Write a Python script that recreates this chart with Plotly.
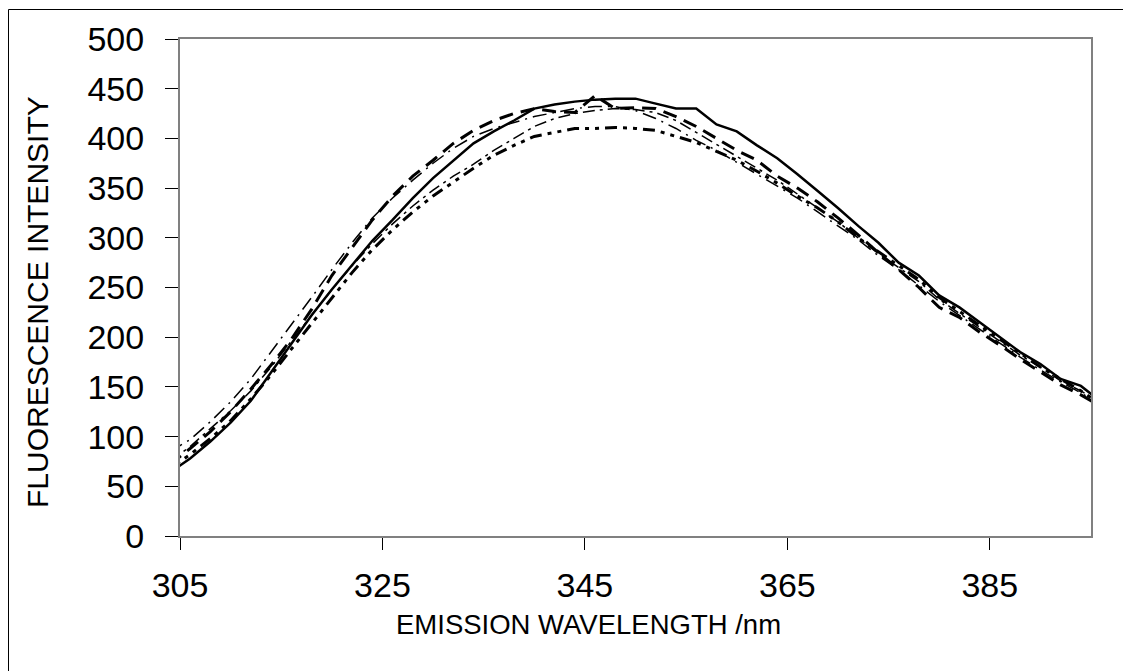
import plotly.graph_objects as go

wavelength = list(range(304, 398, 2))

series_a = [64, 78, 95, 114, 136, 165, 193, 222, 248, 272, 297, 318, 340, 360, 378, 395,
            407, 418, 430, 434, 437, 439, 440, 440, 435, 430, 430, 414, 407, 393, 380, 364,
            347, 330, 312, 295, 275, 262, 242, 230, 215, 200, 185, 173, 158, 151, 135]
series_b = [72, 88, 105, 125, 148, 172, 198, 228, 262, 290, 318, 342, 362, 378, 395, 408,
            418, 425, 430, 427, 426, 443, 430, 431, 430, 422, 412, 400, 388, 378, 362, 350,
            336, 320, 303, 285, 268, 250, 230, 220, 205, 192, 178, 165, 152, 142, 130]
series_c = [68, 82, 98, 116, 138, 162, 188, 214, 240, 265, 288, 308, 326, 342, 356, 370,
            383, 393, 402, 406, 410, 410, 411, 410, 408, 402, 396, 387, 378, 367, 355, 342,
            330, 316, 300, 286, 272, 258, 240, 226, 212, 198, 184, 170, 158, 146, 132]
series_d = [85, 97, 115, 135, 158, 185, 212, 240, 268, 295, 320, 340, 358, 375, 390, 402,
            410, 416, 422, 426, 430, 432, 432, 428, 420, 410, 398, 388, 376, 364, 352, 340,
            326, 312, 298, 282, 268, 252, 236, 222, 208, 194, 180, 167, 155, 144, 132]
series_e = [75, 90, 108, 126, 146, 170, 196, 222, 248, 272, 294, 314, 332, 348, 362, 374,
            388, 400, 412, 420, 425, 428, 430, 429, 426, 418, 406, 394, 382, 370, 358, 344,
            330, 316, 300, 284, 270, 256, 238, 224, 210, 196, 182, 170, 156, 146, 134]

x_ticks = [305, 325, 345, 365, 385]
y_ticks = [0, 50, 100, 150, 200, 250, 300, 350, 400, 450, 500]

styles = [
    (series_e, 1.5, "12px,5px,3px,5px"),
    (series_d, 1.5, "14px,6px,2px,6px"),
    (series_c, 3, "12px,6px,4px,6px,4px,6px"),
    (series_b, 3, "14px,8px"),
    (series_a, 2.5, "solid"),
]

fig = go.Figure()
for vals, w, dash in styles:
    fig.add_trace(go.Scatter(x=wavelength, y=vals, mode="lines",
                             line=dict(color="black", width=w, dash=dash),
                             showlegend=False, cliponaxis=True))

font = "Liberation Sans, Arial, sans-serif"
L, R, T, B = 180, 1091, 39, 536
W, H = R - L, B - T
fig.update_layout(
    width=1123, height=671,
    margin=dict(l=L, r=1123 - R, t=T, b=671 - B),
    paper_bgcolor="white", plot_bgcolor="white",
    font=dict(family=font, color="black"),
)
fig.update_xaxes(range=[305, 395], tickmode="array", tickvals=x_ticks,
                 ticks="outside", ticklen=12, tickcolor="black", tickwidth=1,
                 ticklabelstandoff=6,
                 showgrid=False, zeroline=False, showline=True, linecolor="#808080",
                 linewidth=2, mirror=True, tickfont=dict(size=34, family=font))
fig.update_yaxes(range=[0, 500], tickmode="array", tickvals=y_ticks,
                 ticks="outside", ticklen=13, tickcolor="black", tickwidth=1,
                 ticklabelstandoff=14,
                 showgrid=False, zeroline=False, showline=True, linecolor="#808080",
                 linewidth=2, mirror=True, tickfont=dict(size=34, family=font))

fig.add_annotation(text="EMISSION WAVELENGTH /nm", xref="paper", yref="paper",
                   x=(588 - L) / W, y=(B - 624) / H, showarrow=False,
                   font=dict(size=27.5, family=font), xanchor="center", yanchor="middle")
fig.add_annotation(text="FLUORESCENCE INTENSITY", xref="paper", yref="paper",
                   x=(37 - L) / W, y=(B - 302) / H, showarrow=False, textangle=-90,
                   font=dict(size=30, family=font), xanchor="center", yanchor="middle")

fig.add_shape(type="rect", xref="paper", yref="paper",
              x0=(8.5 - L) / W, x1=(1130 - L) / W,
              y0=(B - 680) / H, y1=(B - 9.5) / H,
              line=dict(color="black", width=1), fillcolor="rgba(0,0,0,0)", layer="below")

fig.write_html("out.html")
